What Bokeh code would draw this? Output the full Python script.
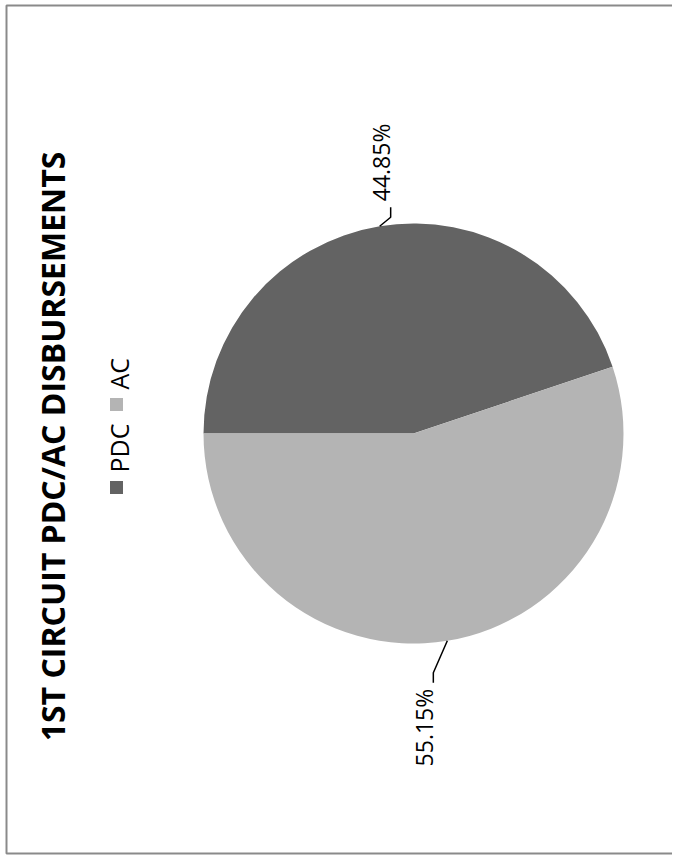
import math
from bokeh.plotting import figure
from bokeh.models import Range1d, ColumnDataSource
from bokeh.core.properties import value
from bokeh.embed import file_html
from bokeh.resources import INLINE

# ---- data ----
title_text = "1ST CIRCUIT PDC/AC DISBURSEMENTS"
categories = ["PDC", "AC"]
shares = [44.85, 55.15]
colors = ["#636363", "#b4b4b4"]

# ---- layout (pixels) ----
W, H = 672, 855
cx, cy, R = 413, 422, 210
FONT = "Open Sans"

p = figure(width=W, height=H, output_backend="svg", toolbar_location=None,
           x_range=Range1d(0, W), y_range=Range1d(0, H), min_border=0)
p.axis.visible = False
p.grid.visible = False
p.outline_line_color = None
p.background_fill_color = "white"
p.border_fill_color = "white"

# frame border (left, top, bottom; right edge runs off the page)
p.line(x=[W, 6, 6, W], y=[H - 5, H - 5, 2, 2], line_color="#8a8a8a", line_width=2)

# pie wedges: start at 180 deg going clockwise
total = sum(shares)
starts, ends, mids = [], [], []
a = math.pi
for v in shares:
    sweep = v / total * 2 * math.pi
    starts.append(a - sweep)
    ends.append(a)
    mids.append(a - sweep / 2)
    a -= sweep
src = ColumnDataSource(dict(start=starts, end=ends, color=colors))
p.wedge(x=cx, y=cy, radius=R, start_angle="start", end_angle="end",
        fill_color="color", line_color=None, source=src)

# leader lines and labels
elbows = [(11, 9), (-14, -32)]
tails = [10, -10]
for i, v in enumerate(shares):
    ex = cx + R * math.cos(mids[i])
    ey = cy + R * math.sin(mids[i])
    bx, by = ex + elbows[i][0], ey + elbows[i][1]
    tx, ty = bx, by + tails[i]
    p.line(x=[ex, bx, tx], y=[ey, by, ty], line_color="black", line_width=1.5)
    if tails[i] > 0:
        p.text(x=[tx - 10], y=[ty + 6], text=[f"{v:.2f}%"], angle=math.pi / 2,
               text_align="left", text_baseline="middle",
               text_font=value(FONT), text_font_size="23px", text_color="black")
    else:
        p.text(x=[tx - 9], y=[ty - 6], text=[f"{v:.2f}%"], angle=math.pi / 2,
               text_align="right", text_baseline="middle",
               text_font=value(FONT), text_font_size="23px", text_color="black")

# title (rotated)
p.text(x=[52], y=[H - 446], text=[title_text], angle=math.pi / 2,
       text_align="center", text_baseline="middle",
       text_font=value(FONT), text_font_style="bold", text_font_size="32px",
       text_color="black")

# legend (rotated)
leg_x = 116
sq_y = [H - 487, H - 404]
for i, c in enumerate(categories):
    p.rect(x=[leg_x], y=[sq_y[i]], width=13, height=13, fill_color=colors[i], line_color=None)
    p.text(x=[leg_x + 2], y=[sq_y[i] + 15], text=[c], angle=math.pi / 2,
           text_align="left", text_baseline="middle",
           text_font=value(FONT), text_font_size="25px", text_color="black")

open("out.html", "w").write(file_html(p, INLINE))
